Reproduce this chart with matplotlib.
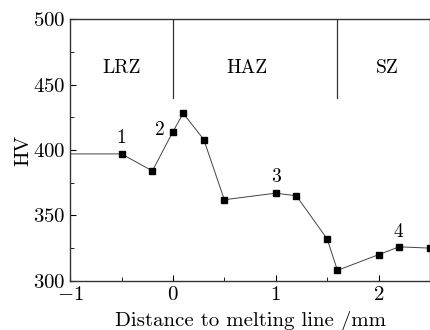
import matplotlib.pyplot as plt
from matplotlib.ticker import MultipleLocator

plt.rcParams['font.family'] = 'serif'
plt.rcParams['font.serif'] = ['cmr10']
plt.rcParams['mathtext.fontset'] = 'cm'
plt.rcParams['axes.formatter.use_mathtext'] = True

# hardness profile across the weld
distance = [-1.0, -0.5, -0.2, 0.0, 0.1, 0.3, 0.5, 1.0, 1.2, 1.5, 1.6, 2.0, 2.2, 2.5]
hv = [397, 397, 384, 414, 428, 408, 362, 367, 365, 332, 308, 320, 326, 325]

zone_names = ["LRZ", "HAZ", "SZ"]
zone_x = [-0.5, 0.72, 2.08]
zone_bounds = [0.0, 1.6]

point_labels = ["1", "2", "3", "4"]
point_x = [-0.5, -0.13, 1.0, 2.19]
point_y = [409, 415, 379, 337]

fig = plt.figure(figsize=(4.3, 3.3), dpi=100)
ax = fig.add_axes([0.163, 0.149, 0.837, 0.793])

ax.plot(distance, hv, color='#444444', lw=0.7, zorder=2)
ax.plot(distance[1:], hv[1:], 's', color='black', ms=4, zorder=3)

for b in zone_bounds:
    ax.plot([b, b], [440, 500], color='#333333', lw=0.9)
for name, x in zip(zone_names, zone_x):
    ax.text(x, 463, name, ha='center', va='center', fontsize=14)
for lab, x, y in zip(point_labels, point_x, point_y):
    ax.text(x, y, lab, ha='center', va='center', fontsize=14)

ax.set_xlim(-1, 2.5)
ax.set_ylim(300, 500)
ax.xaxis.set_major_locator(MultipleLocator(1))
ax.xaxis.set_minor_locator(MultipleLocator(0.5))
ax.yaxis.set_major_locator(MultipleLocator(50))
ax.yaxis.set_minor_locator(MultipleLocator(25))
ax.tick_params(which='both', direction='in', top=False, right=False, labelsize=15)
ax.tick_params(axis='y', pad=3)
ax.tick_params(axis='x', pad=4)
ax.tick_params(which='major', length=4)
ax.tick_params(which='minor', length=3)
for s in ax.spines.values():
    s.set_color('#333333')
    s.set_linewidth(1.0)

ax.set_xlabel("Distance to melting line /mm", fontsize=15, labelpad=5)
ax.set_ylabel("HV", fontsize=15, labelpad=1)

fig.savefig("out.png", dpi=100)
